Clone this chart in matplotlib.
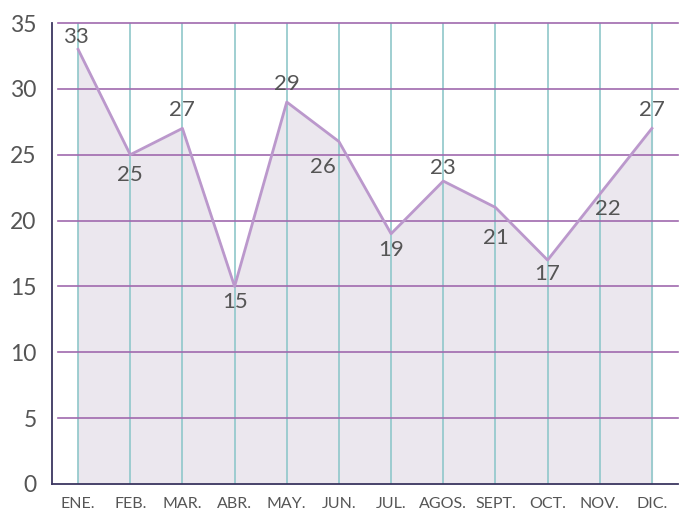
import numpy as np
import matplotlib
matplotlib.use("Agg")
import matplotlib.pyplot as plt

months = ["ENE.", "FEB.", "MAR.", "ABR.", "MAY.", "JUN.", "JUL.", "AGOS.", "SEPT.", "OCT.", "NOV.", "DIC."]
values = [33, 25, 27, 15, 29, 26, 19, 23, 21, 17, 22, 27]
yticks = [0, 5, 10, 15, 20, 25, 30, 35]

# label offsets in pixels (dx, dy) relative to each point
label_off = [(-2, 12), (0, -20), (0, 18), (0, -16), (0, 18), (-16, -25),
             (0, -16), (0, 13), (0, -31), (0, -14), (8, -15), (0, 18)]

LINE = "#bb98cc"
FILL = "#e8e3ec"
HGRID = "#a06aae"
VGRID = "#8fc7ca"
SPINE = "#3b3660"
TEXT = "#555555"

plt.rcParams["font.family"] = ["Lato", "DejaVu Sans"]

fig = plt.figure(figsize=(6.86, 5.18), dpi=100)
ax = fig.add_axes([52 / 686, 34 / 518, 626 / 686, 461 / 518])

x = np.arange(len(values))
ax.set_xlim(-0.5, 11.5)
ax.set_ylim(0, 35)

# grid
for xi in x:
    ax.axvline(xi, color=VGRID, lw=1.2, zorder=1)
for yv in yticks[1:]:
    ax.plot([-0.38, 11.5], [yv, yv], color=HGRID, lw=1.2, zorder=2, clip_on=False)

ax.fill_between(x, values, 0, color=FILL, alpha=0.85, zorder=0.5)
ax.plot(x, values, color=LINE, lw=2.0, zorder=3)

for xi, v, (dx, dy) in zip(x, values, label_off):
    ax.annotate(str(v), (xi, v), xytext=(dx, dy), textcoords="offset pixels",
                ha="center", va="center", fontsize=16, color=TEXT, zorder=4)

for s in ["top", "right"]:
    ax.spines[s].set_visible(False)
for s in ["left", "bottom"]:
    ax.spines[s].set_color(SPINE)
    ax.spines[s].set_linewidth(1.3)

ax.set_xticks(x)
ax.set_xticklabels(months, fontsize=11.5, color=TEXT)
ax.set_yticks(yticks)
ax.set_yticklabels([str(t) for t in yticks], fontsize=16.5, color=TEXT)
ax.tick_params(length=0)
ax.tick_params(axis="y", pad=11)
ax.tick_params(axis="x", pad=9)

fig.savefig("out.png", dpi=100)
